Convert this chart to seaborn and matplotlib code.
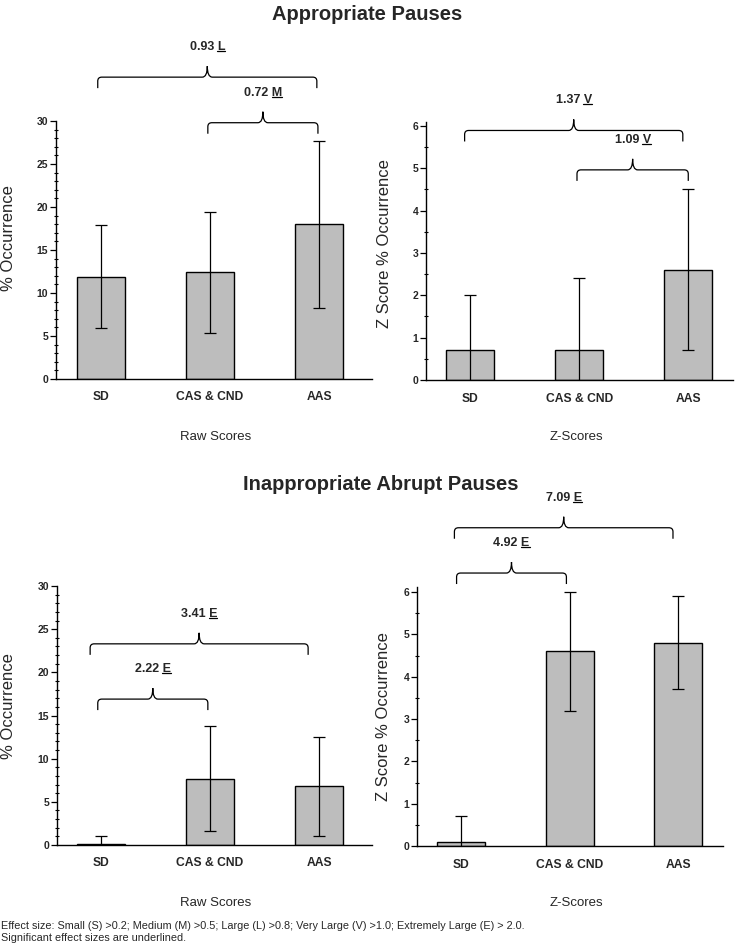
import numpy as np
import pandas as pd
import matplotlib
matplotlib.use("Agg")
import matplotlib.pyplot as plt
import seaborn as sns
from matplotlib.path import Path
from matplotlib.patches import PathPatch
from matplotlib.transforms import IdentityTransform
from matplotlib.ticker import MultipleLocator

# ---------------- data ----------------
categories = ["SD", "CAS & CND", "AAS"]

ap_raw_mean = [11.9, 12.4, 18.0]
ap_raw_sd = [6.0, 7.0, 9.7]
ap_z_mean = [0.7, 0.7, 2.6]
ap_z_sd = [1.3, 1.7, 1.9]

iap_raw_mean = [0.1, 7.7, 6.8]
iap_raw_sd = [0.9, 6.1, 5.7]
iap_z_mean = [0.1, 4.6, 4.8]
iap_z_sd = [0.6, 1.4, 1.1]

# effect sizes: (value, letter, x_start, x_end, y of bracket line)
ap_raw_effects = [("0.93", "L", -0.03, 1.98, 35.1), ("0.72", "M", 0.98, 1.99, 29.8)]
ap_z_effects = [("1.37", "V", -0.05, 1.95, 5.89), ("1.09", "V", 0.98, 2.0, 4.96)]
iap_raw_effects = [("3.41", "E", -0.1, 1.9, 23.3), ("2.22", "E", -0.03, 0.98, 16.9)]
iap_z_effects = [("7.09", "E", -0.06, 1.95, 7.52), ("4.92", "E", -0.04, 0.97, 6.45)]

titles = ["Appropriate Pauses", "Inappropriate Abrupt Pauses"]
footnote = ["Effect size: Small (S) >0.2; Medium (M) >0.5; Large (L) >0.8; Very Large (V) >1.0; Extremely Large (E) > 2.0.",
            "Significant effect sizes are underlined."]

# ---------------- style ----------------
sns.set_theme(style="white")
plt.rcParams["font.family"] = ["Liberation Sans", "DejaVu Sans"]

W, H = 738, 949
fig = plt.figure(figsize=(W / 100, H / 100), dpi=100)
fig.patch.set_facecolor("white")

BAR_COLOR = "#bdbdbd"


def px_axes(left, right, top, bottom):
    return fig.add_axes([left / W, 1 - bottom / H, (right - left) / W, (bottom - top) / H])


panels = [
    # axes box (px), means, sds, ymax, major, minor, xlim, ylabel, effects
    ((56, 372, 121, 379), ap_raw_mean, ap_raw_sd, 30, 5, 1, (-0.413, 2.486), "% Occurrence", ap_raw_effects),
    ((426, 733, 122, 380), ap_z_mean, ap_z_sd, 6.09, 1, 0.5, (-0.404, 2.41), "Z Score % Occurrence", ap_z_effects),
    ((57, 372, 586, 845), iap_raw_mean, iap_raw_sd, 30, 5, 1, (-0.404, 2.486), "% Occurrence", iap_raw_effects),
    ((417, 723, 587, 846), iap_z_mean, iap_z_sd, 6.12, 1, 0.5, (-0.404, 2.41), "Z Score % Occurrence", iap_z_effects),
]

ylabel_pos = [(9, 238), (384, 244), (9, 706), (383, 717)]

axes = []
for (box, means, sds, ymax, major, minor, xlim, ylabel, effects) in panels:
    ax = px_axes(*box)
    df = pd.DataFrame({"group": categories, "mean": means, "sd": sds})
    sns.barplot(data=df, x="group", y="mean", color=BAR_COLOR, edgecolor="black",
                linewidth=1.0, width=0.44, saturation=1, ax=ax, zorder=2)
    ax.errorbar(np.arange(len(categories)), df["mean"], yerr=df["sd"], fmt="none",
                ecolor="black", elinewidth=0.9, capsize=4, capthick=0.9, zorder=3)
    ax.set_xlim(*xlim)
    ax.set_ylim(0, ymax)
    ax.yaxis.set_major_locator(MultipleLocator(major))
    ax.yaxis.set_minor_locator(MultipleLocator(minor))
    ax.set_xlabel("")
    ax.set_ylabel("")
    for s in ["top", "right"]:
        ax.spines[s].set_visible(False)
    for s in ["left", "bottom"]:
        ax.spines[s].set_color("black")
        ax.spines[s].set_linewidth(1.0)
    ax.tick_params(axis="y", which="major", direction="out", length=4, width=0.9,
                   color="black", pad=1.5, labelsize=7.5, left=True)
    ax.tick_params(axis="y", which="minor", direction="inout", length=3, width=0.8,
                   color="black", left=True)
    ax.tick_params(axis="x", length=0, pad=9, labelsize=8.7)
    for lab in ax.get_yticklabels():
        lab.set_fontweight("bold")
    for lab in ax.get_xticklabels():
        lab.set_fontweight("bold")
    ax.grid(False)
    axes.append(ax)

# titles
fig.text(367 / W, 1 - 14 / H, titles[0], ha="center", va="center", fontsize=14.5, fontweight="bold")
fig.text(381 / W, 1 - 484 / H, titles[1], ha="center", va="center", fontsize=14.5, fontweight="bold")

# y labels
for (x, y), p in zip(ylabel_pos, panels):
    fig.text(x / W, 1 - y / H, p[7], rotation=90, ha="center", va="center", fontsize=12)

# group labels
for y in (437, 903):
    fig.text(216 / W, 1 - y / H, "Raw Scores", ha="center", va="center", fontsize=9.5)
    fig.text(576 / W, 1 - y / H, "Z-Scores", ha="center", va="center", fontsize=9.5)

# footnote
fig.text(1 / W, 1 - 926 / H, footnote[0], ha="left", va="center", fontsize=7.8)
fig.text(1 / W, 1 - 938 / H, footnote[1], ha="left", va="center", fontsize=7.8)

# brackets
fig.canvas.draw()
renderer = fig.canvas.get_renderer()
to_fig = fig.transFigure.inverted()

END_DROP = 11
TIP_RISE = 11
R = 4


def draw_bracket(ax, x1, x2, y, value, letter):
    (px1, py), = ax.transData.transform([(x1, y)])
    (px2, _), = ax.transData.transform([(x2, y)])
    pm = (px1 + px2) / 2
    verts = [
        (px1, py - END_DROP), (px1, py - R),
        (px1, py), (px1 + R, py),
        (pm - 5, py),
        (pm, py), (pm, py + TIP_RISE),
        (pm, py), (pm + 5, py),
        (px2 - R, py),
        (px2, py), (px2, py - R),
        (px2, py - END_DROP),
    ]
    codes = [Path.MOVETO, Path.LINETO,
             Path.CURVE3, Path.CURVE3,
             Path.LINETO,
             Path.CURVE3, Path.CURVE3,
             Path.CURVE3, Path.CURVE3,
             Path.LINETO,
             Path.CURVE3, Path.CURVE3,
             Path.LINETO]
    patch = PathPatch(Path(verts, codes), fill=False, edgecolor="black", lw=0.9,
                      transform=IdentityTransform(), clip_on=False)
    fig.add_artist(patch)
    tx, ty = to_fig.transform((pm, py + TIP_RISE + 19))
    t = fig.text(tx, ty, f"{value} {letter}", ha="center", va="center",
                 fontsize=9, fontweight="bold")
    bb = t.get_window_extent(renderer)
    tmp = fig.text(0, 0, letter, fontsize=9, fontweight="bold")
    lw_ = tmp.get_window_extent(renderer).width
    tmp.remove()
    uy = bb.y0 + 0.18 * bb.height
    (ux0, uy0) = to_fig.transform((bb.x1 - lw_, uy))
    (ux1, _) = to_fig.transform((bb.x1, uy))
    fig.add_artist(plt.Line2D([ux0, ux1], [uy0, uy0], color="black", lw=0.9,
                              transform=fig.transFigure))


for ax, p in zip(axes, panels):
    for value, letter, x1, x2, y in p[8]:
        draw_bracket(ax, x1, x2, y, value, letter)

fig.savefig("out.png", dpi=100, facecolor="white")
